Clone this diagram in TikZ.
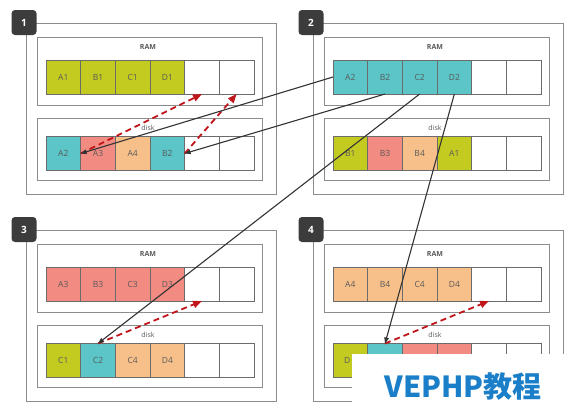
\documentclass[tikz,border=0pt]{standalone}
\usepackage{fontspec}
\setmainfont{Open Sans}
\newfontfamily\cjkfont{Noto Sans CJK SC}
\usetikzlibrary{arrows.meta}
\definecolor{olv}{HTML}{C3CB21}
\definecolor{tea}{HTML}{5BC5C8}
\definecolor{pnk}{HTML}{F28B82}
\definecolor{pch}{HTML}{F7C08A}
\definecolor{nne}{HTML}{FFFFFF}
\definecolor{bxline}{HTML}{8C8C8C}
\definecolor{cline}{HTML}{6B6B6B}
\definecolor{ctext}{HTML}{5A5A5A}
\definecolor{blk}{HTML}{333333}
\definecolor{rdd}{HTML}{C0161B}
\definecolor{badge}{HTML}{3C3C3C}
\definecolor{wmblue}{HTML}{1A7FC8}
\tikzset{
  cellbox/.style={draw=cline, line width=0.8pt, minimum width=34.67pt, minimum height=34pt,
    inner sep=0pt, outer sep=0pt, font=\fontsize{8.5}{10}\selectfont, text=ctext},
  framebox/.style={draw=bxline, line width=0.9pt},
  lbl/.style={font=\fontsize{7}{8}\selectfont\bfseries, text=ctext, inner sep=0pt},
  badgebox/.style={fill=badge, rounded corners=3.5pt, minimum width=25pt, minimum height=25pt,
    inner sep=0pt, text=white, font=\fontsize{10}{12}\selectfont\bfseries},
  blkarrow/.style={draw=blk, line width=1.1pt, -{Triangle[length=6pt,width=4.5pt]}},
  redarrow/.style={draw=rdd, line width=1.8pt, dash pattern=on 6pt off 4pt,
    -{Triangle[length=9pt,width=7pt]}},
}
\newcommand\drawpanel[5]{%
  % #1 name, #2 ox, #3 oy, #4 ram cells, #5 disk cells
  \begin{scope}[shift={(#2,#3)}]
    \draw[framebox] (26,23) rectangle (276,194);
    \node[badgebox] (b#1) at (24,22.5) {#1};
    \draw[framebox] (37,37) rectangle (262,105);
    \node[lbl] (ramlbl#1) at (148,47) {RAM};
    \foreach \t/\c [count=\i] in {#4} {
      \node[cellbox, fill=\c] (r#1c\i) at ({46+34.67*(\i-0.5)},77) {\t};
    }
    \draw[framebox] (37,118) rectangle (262,180);
    \node[lbl, font=\fontsize{7}{8}\selectfont] (disklbl#1) at (148,128) {disk};
    \foreach \t/\c [count=\i] in {#5} {
      \node[cellbox, fill=\c] (d#1c\i) at ({46+34.67*(\i-0.5)},153.5) {\t};
    }
  \end{scope}
}
\begin{document}
\begin{tikzpicture}[x=1pt,y=-1pt]
  \useasboundingbox (0,0) rectangle (576,415);
  \fill[white] (0,0) rectangle (576,415);
  \drawpanel{1}{0}{0}{A1/olv,B1/olv,C1/olv,D1/olv,/nne,/nne}{A2/tea,A3/pnk,A4/pch,B2/tea,/nne,/nne}
  \drawpanel{2}{287}{0}{A2/tea,B2/tea,C2/tea,D2/tea,/nne,/nne}{B1/olv,B3/pnk,B4/pch,A1/olv,/nne,/nne}
  \drawpanel{3}{0}{207}{A3/pnk,B3/pnk,C3/pnk,D3/pnk,/nne,/nne}{C1/olv,C2/tea,C4/pch,D4/pch,/nne,/nne}
  \drawpanel{4}{287}{207}{A4/pch,B4/pch,C4/pch,D4/pch,/nne,/nne}{\hspace*{-6pt}D/olv,/tea,/pnk,/pnk,/nne,/nne}
  % red dashed arrows
  \draw[redarrow] (d1c1.east) -- (r1c5.south);
  \draw[redarrow] (d1c4.east) -- (r1c6.south);
  \draw[redarrow] (d3c2.north) -- (r3c5.south);
  \draw[redarrow] (d4c2.north) -- (r4c5.south);
  % black arrows
  \draw[blkarrow] (r2c1.west) -- (d1c1.east);
  \draw[blkarrow] (r2c2.south) -- (d1c4.east);
  \draw[blkarrow] (r2c3.south) -- (d3c2.north);
  \draw[blkarrow] (r2c4.south) -- (d4c2.north);
  % watermark
  \fill[white] (352,354) rectangle (576,415);
  \node[anchor=base, inner sep=0pt, text=wmblue, font=\cjkfont\bfseries\fontsize{29}{32}\selectfont] (wm) at (463,397) {VEPHP教程};
\end{tikzpicture}
\end{document}
